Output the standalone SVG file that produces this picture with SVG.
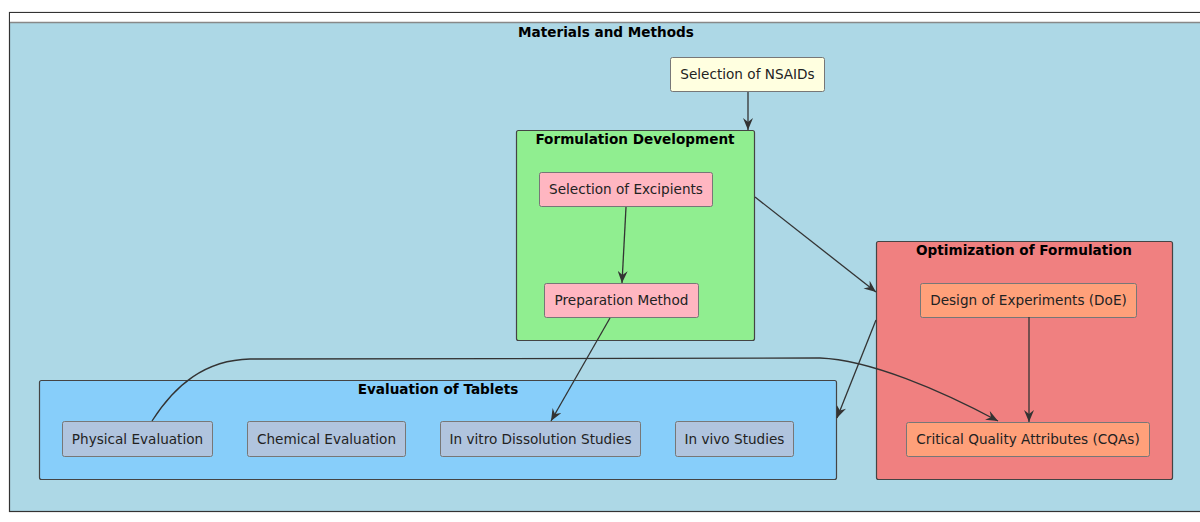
<svg xmlns="http://www.w3.org/2000/svg" width="1200" height="522" viewBox="0 0 1200 522">
<defs>
<style>
.t{font-family:"DejaVu Sans",Verdana,sans-serif;font-size:13.6px;fill:#222;text-anchor:middle}
.h{font-family:"DejaVu Sans",Verdana,sans-serif;font-size:13.6px;font-weight:bold;fill:#000;text-anchor:middle}
.n{stroke:#777;stroke-width:1}
.c{stroke:#444;stroke-width:1.2}
.e{fill:none;stroke:#333;stroke-width:1.3}
</style>
<marker id="a" viewBox="0 0 12 10" refX="12" refY="5" markerWidth="12" markerHeight="10" markerUnits="userSpaceOnUse" orient="auto">
<path d="M0,0 L12,5 L0,10 L4,5 Z" fill="#333"/>
</marker>
</defs>
<rect x="0" y="0" width="1200" height="522" fill="#fff"/>
<g id="materials-and-methods">
<rect x="9.5" y="12.5" width="1200" height="499" fill="#ADD8E6" stroke="#333" stroke-width="1.2"/>
<rect x="10" y="13" width="1200" height="9.5" fill="#fff"/>
<line x1="10" y1="22.5" x2="1200" y2="22.5" stroke="#888" stroke-width="1.5"/>
<text class="h" x="606" y="37">Materials and Methods</text>
</g>
<g id="formulation-development">
<rect class="c" x="516.5" y="130.5" width="238" height="210" rx="2" fill="#90EE90"/>
<text class="h" x="635" y="144">Formulation Development</text>
</g>
<g id="optimization-of-formulation">
<rect class="c" x="876.5" y="241.5" width="296" height="238" rx="2" fill="#F08080"/>
<text class="h" x="1024" y="255">Optimization of Formulation</text>
</g>
<g id="evaluation-of-tablets">
<rect class="c" x="39.5" y="380.5" width="797" height="99" rx="2" fill="#87CEFA"/>
<text class="h" x="438" y="394">Evaluation of Tablets</text>
</g>
<g id="selection-of-nsaids">
<rect class="n" x="670.5" y="57.5" width="154" height="34" rx="2" fill="#FFFFE0"/>
<text class="t" x="747.5" y="79">Selection of NSAIDs</text>
</g>
<g id="selection-of-excipients">
<rect class="n" x="539.5" y="172.5" width="173" height="34" rx="2" fill="#FFB6C1"/>
<text class="t" x="626" y="194">Selection of Excipients</text>
</g>
<g id="preparation-method">
<rect class="n" x="544.5" y="283.5" width="154" height="34" rx="2" fill="#FFB6C1"/>
<text class="t" x="621.5" y="305">Preparation Method</text>
</g>
<g id="design-of-experiments">
<rect class="n" x="920.5" y="283.5" width="216" height="34" rx="2" fill="#FFA07A"/>
<text class="t" x="1028.5" y="305">Design of Experiments (DoE)</text>
</g>
<g id="critical-quality-attributes">
<rect class="n" x="906.5" y="422.5" width="243" height="34" rx="2" fill="#FFA07A"/>
<text class="t" x="1028" y="444">Critical Quality Attributes (CQAs)</text>
</g>
<g id="physical-evaluation">
<rect class="n" x="62.5" y="421.5" width="150" height="35" rx="2" fill="#B0C4DE"/>
<text class="t" x="137.5" y="444">Physical Evaluation</text>
</g>
<g id="chemical-evaluation">
<rect class="n" x="247.5" y="421.5" width="158" height="35" rx="2" fill="#B0C4DE"/>
<text class="t" x="326.5" y="444">Chemical Evaluation</text>
</g>
<g id="in-vitro-dissolution-studies">
<rect class="n" x="440.5" y="421.5" width="200" height="35" rx="2" fill="#B0C4DE"/>
<text class="t" x="540.5" y="444">In vitro Dissolution Studies</text>
</g>
<g id="in-vivo-studies">
<rect class="n" x="675.5" y="421.5" width="118" height="35" rx="2" fill="#B0C4DE"/>
<text class="t" x="734.5" y="444">In vivo Studies</text>
</g>
<g id="connectors">
<path class="e" d="M748,92 L748,130" marker-end="url(#a)"/>
<path class="e" d="M626,207 L622,283" marker-end="url(#a)"/>
<path class="e" d="M755,197 L876,292" marker-end="url(#a)"/>
<path class="e" d="M876,320 L837,418" marker-end="url(#a)"/>
<path class="e" d="M610,318 L551,421" marker-end="url(#a)"/>
<path class="e" d="M1029,317 L1029,422" marker-end="url(#a)"/>
<path class="e" d="M152,421 C175,385 205,360 250,359 L820,358 C870,360 940,390 998,421" marker-end="url(#a)"/>
</g>
</svg>
